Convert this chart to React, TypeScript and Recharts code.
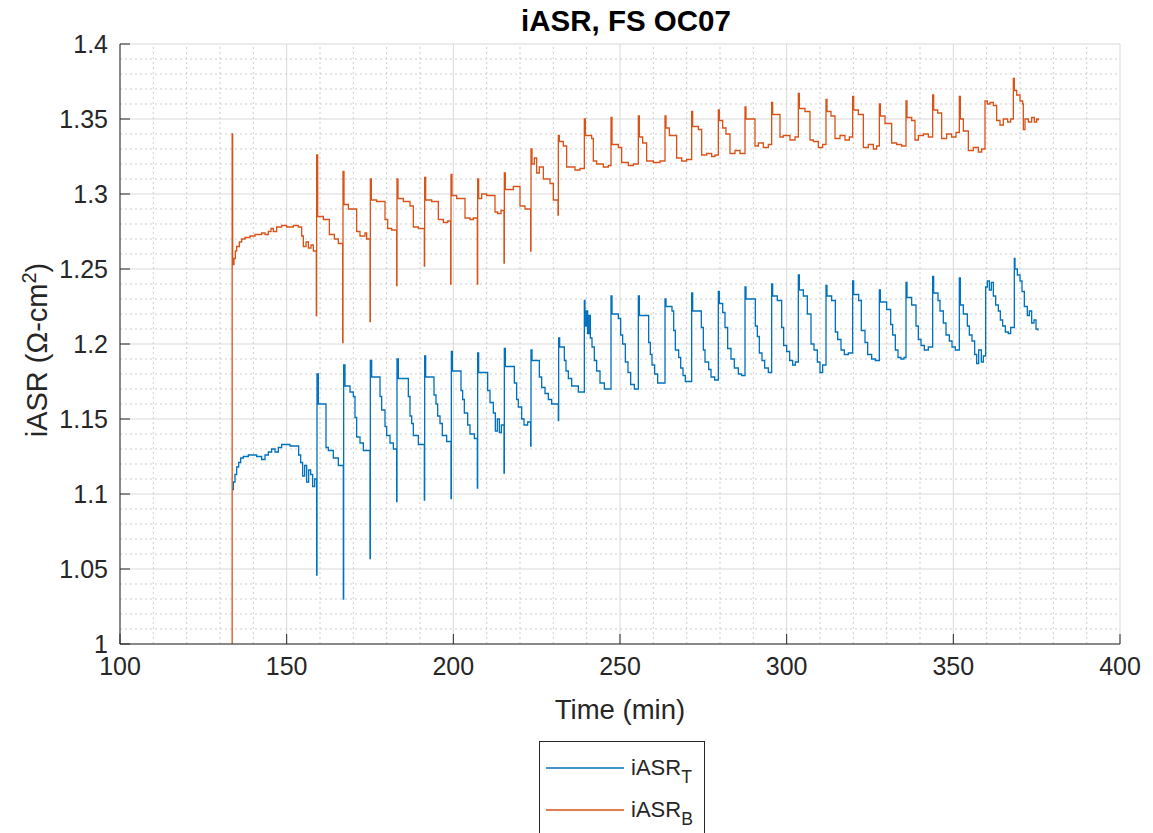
import React from 'react';
import { LineChart, Line, XAxis, YAxis, CartesianGrid, ReferenceLine, Legend } from 'recharts';

// ---- iASR_T (blue) : time (min) / value ----
const tT = [
  133.6, 134.0, 134.5, 135.0, 135.6, 136.2, 137.0, 138.5, 141.0, 142.5, 143.5, 144.5, 145.5, 146.5, 147.5, 148.5, 151.0, 153.6, 154.2, 154.8, 155.4, 156.0, 156.6, 157.2, 157.8, 158.4,
  159.0, 159.1, 159.5, 161.8, 162.5, 164.0, 165.5,
  167.0, 167.1, 167.5, 169.0, 170.0, 170.5, 171.0, 172.0, 173.0,
  175.0, 175.1, 175.5, 178.0, 178.5, 179.5, 180.0, 181.0, 182.0,
  183.0, 183.1, 183.5, 186.5, 187.0, 187.5, 188.0, 189.5,
  191.3, 191.4, 191.7, 194.2, 194.8, 195.3, 196.0, 196.7, 198.0,
  199.3, 199.4, 199.7, 202.3, 202.8, 203.3, 204.3, 205.0, 206.3,
  207.2, 207.3, 207.6, 210.3, 211.0, 212.0, 212.6, 213.2, 213.8, 214.4,
  215.2, 215.3, 215.6, 218.3, 219.0, 219.5, 220.5, 221.2, 222.3,
  223.2, 223.3, 223.6, 225.8, 226.5, 227.5, 228.5, 229.5,
  231.5, 231.6, 231.9, 233.3, 233.8, 234.5, 235.5, 237.5,
  239.3, 239.5, 239.9, 240.3, 240.7, 241.1, 241.6, 242.3, 243.0, 244.0, 245.3,
  247.3, 247.6, 249.5, 250.2, 250.8, 251.6, 252.4, 253.2, 254.3,
  255.5, 255.8, 258.6, 259.1, 259.6, 260.4, 261.3,
  263.5, 263.8, 265.6, 266.1, 266.6, 267.6, 268.2, 268.9, 269.6,
  271.5, 271.8, 274.4, 275.0, 275.5, 276.6, 277.3, 278.4,
  279.5, 279.8, 280.8, 281.5, 282.3, 283.3, 284.3, 285.5, 286.5,
  287.5, 287.8, 290.6, 291.2, 291.8, 292.6, 293.4, 294.5,
  295.5, 295.8, 297.2, 298.5, 299.1, 300.0, 300.9, 301.8, 302.6,
  303.5, 303.8, 305.0, 306.2, 307.3, 308.2, 309.2, 310.0, 310.8,
  311.8, 312.1, 313.5, 314.6, 315.3, 316.3, 317.3, 318.5,
  319.8, 320.1, 321.6, 322.4, 323.5, 324.3, 325.5, 326.6,
  327.8, 328.1, 330.0, 331.2, 331.8, 332.6, 333.4, 334.3, 335.2,
  335.8, 336.1, 337.5, 338.8, 339.5, 340.3, 341.3, 342.5,
  343.8, 344.1, 345.4, 346.0, 347.0, 347.8, 348.8, 349.6, 350.6,
  351.8, 352.1, 353.0, 354.2, 354.8, 355.6, 356.4, 357.0, 357.6, 358.4, 359.0,
  359.7, 360.2, 360.8, 361.4, 362.0, 362.7, 363.5, 364.1, 364.8, 365.6, 366.5, 367.2,
  368.3, 368.5, 369.2, 370.0, 370.6, 371.3, 372.2, 372.8, 373.5, 374.2, 374.8, 375.4,
];
const vT = [
  1.103, 1.108, 1.113, 1.118, 1.121, 1.124, 1.125, 1.126, 1.125, 1.123, 1.126, 1.128, 1.130, 1.128, 1.131, 1.133, 1.132, 1.126, 1.121, 1.112, 1.119, 1.108, 1.116, 1.113, 1.105, 1.110,
  1.046, 1.180, 1.160, 1.131, 1.129, 1.124, 1.119,
  1.030, 1.186, 1.172, 1.168, 1.165, 1.151, 1.138, 1.134, 1.129,
  1.057, 1.189, 1.178, 1.165, 1.156, 1.145, 1.139, 1.134, 1.130,
  1.095, 1.190, 1.177, 1.165, 1.152, 1.147, 1.139, 1.133,
  1.096, 1.192, 1.178, 1.166, 1.160, 1.152, 1.147, 1.139, 1.135,
  1.097, 1.195, 1.182, 1.169, 1.163, 1.154, 1.146, 1.140, 1.137,
  1.104, 1.194, 1.181, 1.169, 1.161, 1.154, 1.142, 1.150, 1.141, 1.146,
  1.114, 1.197, 1.185, 1.174, 1.163, 1.158, 1.150, 1.146, 1.148,
  1.132, 1.196, 1.189, 1.178, 1.171, 1.167, 1.163, 1.160,
  1.149, 1.204, 1.198, 1.189, 1.182, 1.177, 1.172, 1.168,
  1.229, 1.212, 1.222, 1.207, 1.219, 1.204, 1.198, 1.189, 1.182, 1.174, 1.170,
  1.232, 1.220, 1.217, 1.206, 1.200, 1.188, 1.181, 1.173, 1.170,
  1.232, 1.219, 1.201, 1.193, 1.186, 1.180, 1.174,
  1.230, 1.225, 1.222, 1.209, 1.196, 1.191, 1.184, 1.179, 1.175,
  1.234, 1.222, 1.211, 1.196, 1.188, 1.183, 1.178, 1.176,
  1.235, 1.227, 1.221, 1.211, 1.197, 1.190, 1.184, 1.180, 1.179,
  1.238, 1.230, 1.212, 1.205, 1.194, 1.189, 1.184, 1.181,
  1.240, 1.232, 1.229, 1.211, 1.199, 1.195, 1.189, 1.186, 1.188,
  1.246, 1.236, 1.232, 1.220, 1.200, 1.196, 1.188, 1.181, 1.186,
  1.239, 1.232, 1.229, 1.208, 1.203, 1.196, 1.193, 1.194,
  1.242, 1.233, 1.229, 1.209, 1.201, 1.193, 1.190, 1.189,
  1.236, 1.228, 1.223, 1.213, 1.206, 1.196, 1.191, 1.190, 1.191,
  1.241, 1.231, 1.226, 1.212, 1.203, 1.199, 1.196, 1.198,
  1.245, 1.234, 1.229, 1.222, 1.214, 1.206, 1.202, 1.198, 1.196,
  1.244, 1.226, 1.220, 1.212, 1.206, 1.202, 1.193, 1.187, 1.196, 1.188, 1.192,
  1.238, 1.242, 1.236, 1.241, 1.232, 1.226, 1.222, 1.216, 1.212, 1.208, 1.207, 1.211,
  1.257, 1.250, 1.246, 1.242, 1.235, 1.225, 1.219, 1.222, 1.214, 1.216, 1.210, 1.209,
];

// ---- iASR_B (orange) : time (min) / value ----
const tB = [
  133.6, 133.65, 133.8, 134.2, 134.6, 135.0, 135.8, 136.5, 137.5, 139.0, 140.5, 142.5, 143.5, 144.5, 145.3, 146.0, 147.0, 148.5, 150.0, 152.0, 153.5, 154.5, 155.0, 155.8, 156.5, 157.3, 158.0,
  158.9, 159.0, 159.3, 161.0, 162.8, 164.3, 165.5,
  166.8, 166.9, 167.2, 168.5, 171.0, 172.0, 173.5, 174.0,
  175.0, 175.1, 175.4, 177.0, 179.5, 180.3, 181.5,
  183.0, 183.1, 183.4, 185.0, 187.0, 188.0, 189.5,
  191.3, 191.4, 191.7, 193.5, 195.5, 197.0, 198.3,
  199.2, 199.3, 199.6, 201.0, 203.5, 205.0, 206.0,
  207.2, 207.3, 207.6, 208.5, 210.0, 212.5, 213.3, 214.3,
  215.2, 215.3, 215.6, 218.0, 220.0, 221.5,
  223.2, 223.3, 223.6, 224.3, 225.0, 225.8, 227.0, 229.0, 230.0,
  231.4, 231.5, 231.8, 233.0, 234.0, 236.5, 238.0,
  239.3, 239.6, 241.5, 242.0, 243.0, 245.0, 246.5,
  247.3, 247.6, 249.5, 250.5, 252.5, 254.0,
  255.5, 255.8, 256.8, 258.0, 260.0, 262.0,
  263.5, 263.8, 264.8, 267.0, 268.5, 270.0,
  271.5, 271.8, 273.5, 274.5, 276.0, 277.5, 278.5,
  279.5, 279.8, 280.8, 281.8, 283.0, 284.5, 286.0,
  287.5, 287.8, 290.5, 291.5, 293.0, 294.5,
  295.5, 295.8, 298.0, 299.0, 301.0, 302.5,
  303.5, 303.8, 305.5, 307.0, 308.0, 309.5, 310.8,
  311.8, 312.1, 313.3, 314.5, 316.0, 317.5, 318.8,
  319.8, 320.1, 321.5, 323.0, 324.5, 326.0, 327.0,
  327.8, 328.1, 329.5, 331.5, 333.0, 334.5,
  335.8, 336.1, 337.5, 338.5, 339.5, 341.0, 342.5,
  343.8, 344.1, 345.3, 346.5, 348.0, 349.5, 350.8,
  351.8, 352.1, 353.0, 354.5, 356.0, 357.5, 358.5,
  359.5, 360.2, 361.0, 362.0, 363.0, 364.0, 365.0, 366.3, 367.2,
  368.0, 368.3, 369.0, 370.0, 370.8, 371.0, 371.5, 372.5, 373.5, 374.3, 375.0, 375.5,
];
const vB = [
  1.000, 1.340, 1.253, 1.257, 1.262, 1.265, 1.268, 1.270, 1.271, 1.272, 1.273, 1.274, 1.273, 1.275, 1.277, 1.275, 1.278, 1.279, 1.278, 1.279, 1.278, 1.272, 1.265, 1.268, 1.264, 1.266, 1.262,
  1.219, 1.326, 1.285, 1.283, 1.273, 1.270, 1.267,
  1.201, 1.315, 1.293, 1.290, 1.275, 1.272, 1.274, 1.270,
  1.215, 1.310, 1.296, 1.295, 1.283, 1.277, 1.276,
  1.239, 1.310, 1.297, 1.295, 1.292, 1.278, 1.277,
  1.252, 1.311, 1.296, 1.295, 1.283, 1.281, 1.282,
  1.240, 1.313, 1.299, 1.297, 1.284, 1.283, 1.284,
  1.240, 1.310, 1.297, 1.300, 1.299, 1.288, 1.287, 1.289,
  1.254, 1.314, 1.303, 1.305, 1.292, 1.290,
  1.262, 1.330, 1.320, 1.324, 1.314, 1.318, 1.310, 1.307, 1.296,
  1.286, 1.339, 1.335, 1.332, 1.318, 1.316, 1.317,
  1.350, 1.339, 1.337, 1.322, 1.320, 1.318, 1.319,
  1.351, 1.333, 1.331, 1.321, 1.319, 1.320,
  1.352, 1.338, 1.334, 1.322, 1.321, 1.322,
  1.352, 1.344, 1.339, 1.324, 1.322, 1.323,
  1.355, 1.345, 1.343, 1.326, 1.327, 1.325, 1.326,
  1.356, 1.349, 1.344, 1.340, 1.327, 1.329, 1.327,
  1.358, 1.350, 1.332, 1.334, 1.331, 1.333,
  1.361, 1.353, 1.338, 1.339, 1.336, 1.338,
  1.367, 1.357, 1.355, 1.336, 1.335, 1.331, 1.333,
  1.363, 1.355, 1.352, 1.337, 1.339, 1.336, 1.338,
  1.365, 1.356, 1.353, 1.331, 1.333, 1.330, 1.332,
  1.360, 1.352, 1.347, 1.334, 1.333, 1.332,
  1.362, 1.351, 1.349, 1.336, 1.339, 1.340, 1.338,
  1.366, 1.356, 1.354, 1.337, 1.340, 1.338, 1.341,
  1.365, 1.350, 1.342, 1.329, 1.331, 1.328, 1.330,
  1.362, 1.360, 1.361, 1.359, 1.349, 1.346, 1.350, 1.348, 1.350,
  1.377, 1.369, 1.366, 1.362, 1.360, 1.343, 1.350, 1.348, 1.351, 1.348, 1.350, 1.349,
];

// ---- axes / grid ----
const xTicks = [100, 150, 200, 250, 300, 350, 400];
const yTicks = [1, 1.05, 1.1, 1.15, 1.2, 1.25, 1.3, 1.35, 1.4];
const xMinor = [110, 120, 130, 140, 160, 170, 180, 190, 210, 220, 230, 240, 260, 270, 280, 290, 310, 320, 330, 340, 360, 370, 380, 390];
const yMinor = [
  1.01, 1.02, 1.03, 1.04, 1.06, 1.07, 1.08, 1.09, 1.11, 1.12, 1.13, 1.14, 1.16, 1.17, 1.18, 1.19,
  1.21, 1.22, 1.23, 1.24, 1.26, 1.27, 1.28, 1.29, 1.31, 1.32, 1.33, 1.34, 1.36, 1.37, 1.38, 1.39,
];

const seriesInfo = [
  { name: 'iASR', sub: 'T', color: '#0072BD' },
  { name: 'iASR', sub: 'B', color: '#D95319' },
];

const dataT = tT.map((t, i) => ({ t, v: vT[i] }));
const dataB = tB.map((t, i) => ({ t, v: vB[i] }));

const FONT = '"Liberation Sans", Arial, Helvetica, sans-serif';
const AX = '#262626';
const TICK_FS = 25;
const LABEL_FS = 27.5;

const YLabel = () => (
  <text
    x={47}
    y={350}
    transform="rotate(-90 47 350)"
    textAnchor="middle"
    fontSize={29}
    fill={AX}
    fontFamily={FONT}
  >
    iASR (Ω-cm<tspan dy={-11} fontSize={20}>2</tspan>
    <tspan dy={11}>)</tspan>
  </text>
);

const renderLegend = () => (
  <div
    style={{
      width: 166,
      height: 100,
      border: `1px solid ${AX}`,
      background: '#fff',
      boxSizing: 'border-box',
      position: 'relative',
      fontFamily: FONT,
      fontSize: 22,
      color: AX,
    }}
  >
    {seriesInfo.map((s, i) => (
      <div
        key={i}
        style={{ position: 'absolute', left: 6, top: 12 + i * 42, height: 28, display: 'flex', alignItems: 'center', whiteSpace: 'nowrap' }}
      >
        <svg width={78} height={4} style={{ display: 'block' }}>
          <line x1={0} y1={2} x2={78} y2={2} stroke={s.color} strokeWidth={1.3} />
        </svg>
        <span style={{ marginLeft: 7, lineHeight: '28px' }}>
          {s.name}
          <sub style={{ fontSize: '0.8em', verticalAlign: '-0.45em', lineHeight: 0 }}>{s.sub}</sub>
        </span>
      </div>
    ))}
  </div>
);

const fmtY = (v: number) => String(Number(v.toFixed(2)));

export default function App() {
  return (
    <div style={{ position: 'absolute', left: 0, top: 0, width: 1153, height: 833, background: '#fff', fontFamily: FONT }}>
      <div
        style={{
          position: 'absolute',
          left: 126,
          top: 5,
          width: 1000,
          textAlign: 'center',
          fontWeight: 'bold',
          fontSize: 29.5,
          color: '#000',
          fontFamily: FONT,
          lineHeight: '32px',
        }}
      >
        iASR, FS OC07
      </div>
      <LineChart width={1153} height={833} margin={{ top: 44, right: 33, bottom: 0, left: 0 }}>
        {xMinor.map((x) => (
          <ReferenceLine key={`xm${x}`} x={x} stroke="#cdcdcd" strokeDasharray="2 3" strokeWidth={1} />
        ))}
        {yMinor.map((y) => (
          <ReferenceLine key={`ym${y}`} y={y} stroke="#cdcdcd" strokeDasharray="2 3" strokeWidth={1} />
        ))}
        <CartesianGrid stroke="#d9d9d9" strokeWidth={1} />
        <XAxis
          dataKey="t"
          type="number"
          domain={[100, 400]}
          ticks={xTicks}
          allowDataOverflow
          height={189}
          stroke={AX}
          tickSize={-10}
          tickMargin={23}
          tick={{ fill: AX, fontSize: TICK_FS, fontFamily: FONT }}
          label={{ value: 'Time (min)', position: 'insideTop', offset: 55, fill: AX, fontSize: LABEL_FS, fontFamily: FONT }}
        />
        <XAxis
          xAxisId="top"
          orientation="top"
          type="number"
          domain={[100, 400]}
          ticks={xTicks}
          allowDataOverflow
          height={0}
          stroke={AX}
          tickSize={-10}
          tick={false}
        />
        <YAxis
          type="number"
          domain={[1, 1.4]}
          ticks={yTicks}
          allowDataOverflow
          width={120}
          stroke={AX}
          tickSize={-10}
          tickMargin={22}
          tickFormatter={fmtY}
          tick={{ fill: AX, fontSize: TICK_FS, fontFamily: FONT }}
          label={<YLabel />}
        />
        <YAxis
          yAxisId="right"
          orientation="right"
          type="number"
          domain={[1, 1.4]}
          ticks={yTicks}
          allowDataOverflow
          width={0}
          stroke={AX}
          tickSize={-10}
          tick={false}
        />
        <Line
          data={dataT}
          dataKey="v"
          name="iASR_T"
          type="stepAfter"
          stroke="#0072BD"
          strokeWidth={1.3}
          dot={false}
          activeDot={false}
          isAnimationActive={false}
        />
        <Line
          data={dataB}
          dataKey="v"
          name="iASR_B"
          type="stepAfter"
          stroke="#D95319"
          strokeWidth={1.3}
          dot={false}
          activeDot={false}
          isAnimationActive={false}
        />
        <Legend
          layout="horizontal"
          verticalAlign="middle"
          align="center"
          wrapperStyle={{ left: 539, top: 741, width: 166, height: 100 }}
          content={renderLegend}
        />
      </LineChart>
    </div>
  );
}
